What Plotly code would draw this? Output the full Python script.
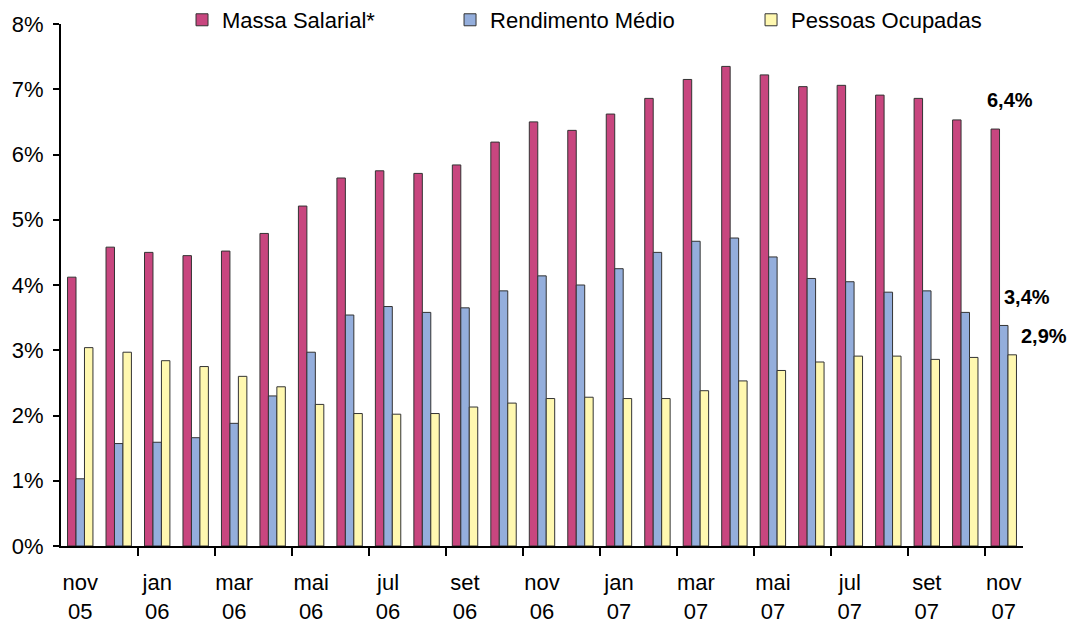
import plotly.graph_objects as go

months = ["nov", "dez", "jan", "fev", "mar", "abr", "mai", "jun", "jul", "ago", "set", "out",
          "nov", "dez", "jan", "fev", "mar", "abr", "mai", "jun", "jul", "ago", "set", "out", "nov"]
years = ["05", "05", "06", "06", "06", "06", "06", "06", "06", "06", "06", "06",
         "06", "06", "07", "07", "07", "07", "07", "07", "07", "07", "07", "07", "07"]

massa = [4.12, 4.58, 4.50, 4.45, 4.52, 4.79, 5.21, 5.64, 5.75, 5.71, 5.84, 6.19,
         6.50, 6.37, 6.62, 6.86, 7.15, 7.35, 7.22, 7.04, 7.06, 6.91, 6.86, 6.53, 6.39]
rendimento = [1.03, 1.57, 1.59, 1.66, 1.88, 2.30, 2.97, 3.54, 3.67, 3.58, 3.65, 3.91,
              4.14, 4.00, 4.25, 4.50, 4.67, 4.72, 4.43, 4.10, 4.05, 3.89, 3.91, 3.58, 3.38]
pessoas = [3.04, 2.97, 2.84, 2.75, 2.60, 2.44, 2.17, 2.03, 2.02, 2.03, 2.13, 2.19,
           2.26, 2.28, 2.26, 2.26, 2.38, 2.53, 2.69, 2.82, 2.91, 2.91, 2.86, 2.89, 2.93]

series_names = ["Massa Salarial*", "Rendimento Médio", "Pessoas Ocupadas"]
colors = ["#C8467F", "#94AEDC", "#FFF8B0"]
legend_ids = ["legend", "legend2", "legend3"]
legend_x = [0.1258, 0.4044, 0.7173]

x = list(range(len(months)))
tick_idx = x[::2]
tick_text = [f"{months[i]}<br>{years[i]}" for i in tick_idx]

FONT = "Liberation Sans, Arial, sans-serif"

fig = go.Figure()
for name, vals, col, lid in zip(series_names, [massa, rendimento, pessoas], colors, legend_ids):
    fig.add_trace(go.Bar(x=x, y=vals, name=name, legend=lid,
                         marker=dict(color=col, line=dict(color="#333333", width=1))))

def fmt(v):
    return f"{v:.1f}".replace(".", ",") + "%"

last = len(x) - 1
for vals, xs, ys in [(massa, 6, 29), (rendimento, 23, 28), (pessoas, 40, 19)]:
    fig.add_annotation(x=last, y=vals[last], text=f"<b>{fmt(vals[last])}</b>", showarrow=False,
                       xshift=xs, yshift=ys, font=dict(size=20, color="black", family=FONT))

legend_common = dict(orientation="h", xanchor="left", y=1.0077, yanchor="middle",
                     font=dict(size=22, family=FONT), bgcolor="rgba(0,0,0,0)", itemwidth=30)

fig.update_layout(
    width=1070, height=623,
    margin=dict(l=61, r=47, t=24, b=77, autoexpand=False),
    paper_bgcolor="white", plot_bgcolor="white",
    barmode="group", bargap=0.34, bargroupgap=0,
    font=dict(family=FONT, size=22, color="black"),
    showlegend=True,
    legend=dict(x=legend_x[0], **legend_common),
    legend2=dict(x=legend_x[1], **legend_common),
    legend3=dict(x=legend_x[2], **legend_common),
    xaxis=dict(range=[-0.5, len(x) - 0.5], tickmode="array", tickvals=tick_idx, ticktext=tick_text,
               ticks="", showline=True, linecolor="black", linewidth=2, showgrid=False, zeroline=False,
               tickfont=dict(size=22), automargin=False, ticklabelstandoff=16,
               minor=dict(tickmode="array", tickvals=[i - 0.5 for i in tick_idx if i > 0],
                          ticks="outside", ticklen=8, tickwidth=2, tickcolor="black", showgrid=False)),
    yaxis=dict(range=[0, 8], dtick=1, ticksuffix="%", ticks="outside", ticklen=6, tickwidth=2,
               tickcolor="black", showline=True, linecolor="black", linewidth=2, showgrid=False,
               zeroline=False, tickfont=dict(size=22), automargin=False, ticklabelstandoff=5),
)

fig.write_html("out.html", config={"displayModeBar": False},
               post_script="document.body.style.margin='0';document.body.style.overflow='hidden';")
